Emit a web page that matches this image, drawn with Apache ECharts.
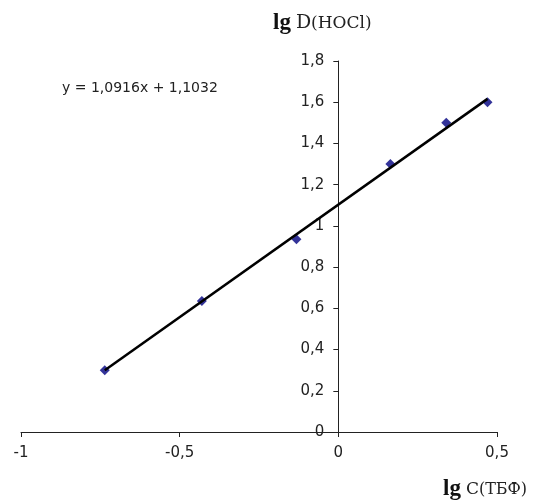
<!DOCTYPE html>
<html>
<head>
<meta charset="utf-8">
<script src="https://cdn.jsdelivr.net/npm/echarts@6/dist/echarts.min.js"></script>
<style>
  html, body { margin: 0; padding: 0; background: #fff; }
  #chart { width: 539px; height: 502px; }
</style>
</head>
<body>
<div id="chart"></div>
<script>
// measured points: lg C(TBF) vs lg D(HOCl)
var lgC = [-0.736, -0.43, -0.132, 0.164, 0.34, 0.47];
var lgD = [0.30, 0.635, 0.935, 1.30, 1.50, 1.60];
// trendline from the equation on the chart
var slope = 1.0916;
var intercept = 1.1032;
var xTicks = [-1, -0.5, 0, 0.5];
var yTicks = [0, 0.2, 0.4, 0.6, 0.8, 1, 1.2, 1.4, 1.6, 1.8];

var points = lgC.map(function (x, i) { return [x, lgD[i]]; });
var xFirst = lgC[0], xLast = lgC[lgC.length - 1];
var trend = [[xFirst, slope * xFirst + intercept], [xLast, slope * xLast + intercept]];

var gridLeft = 21, gridRight = 42;
var plotW = 539 - gridLeft - gridRight;
// shift the y axis from the left edge to x = 0
var yOffset = -plotW * (0 - xTicks[0]) / (xTicks[xTicks.length - 1] - xTicks[0]);

function comma(v) {
  return String(Math.round(v * 10) / 10).replace('.', ',');
}
function comma4(v) {
  return String(v).replace('.', ',');
}

var myChart = echarts.init(document.getElementById('chart'));
var option = {
  animation: false,
  title: [{
    text: '{b|lg} {n|D}{s|(HOCl)}',
    left: 268,
    top: 7,
    textStyle: {
      rich: {
        b: { fontFamily: 'Liberation Serif', fontWeight: 'bold', fontSize: 23, color: '#111' },
        n: { fontFamily: 'DejaVu Serif', fontWeight: 'normal', fontSize: 19, color: '#222' },
        s: { fontFamily: 'DejaVu Serif', fontWeight: 'normal', fontSize: 17, color: '#222' }
      }
    }
  }, {
    text: '{b|lg} {n|C}{s|(ТБФ)}',
    left: 438,
    top: 473,
    textStyle: {
      rich: {
        b: { fontFamily: 'Liberation Serif', fontWeight: 'bold', fontSize: 23, color: '#111' },
        n: { fontFamily: 'DejaVu Serif', fontWeight: 'normal', fontSize: 17, color: '#222' },
        s: { fontFamily: 'DejaVu Serif', fontWeight: 'normal', fontSize: 16, color: '#222' }
      }
    }
  }, {
    text: 'y = ' + comma4(slope) + 'x + ' + comma4(intercept),
    left: 57,
    top: 76,
    textStyle: { fontFamily: 'DejaVu Sans', fontSize: 14, fontWeight: 'normal', color: '#222' }
  }],
  grid: { left: gridLeft, right: gridRight, top: 61, bottom: 70, containLabel: false, outerBoundsMode: 'none' },
  xAxis: {
    type: 'value',
    min: xTicks[0],
    max: xTicks[xTicks.length - 1],
    interval: 0.5,
    splitLine: { show: false },
    axisLine: { onZero: true, lineStyle: { color: '#222', width: 1 } },
    axisTick: { show: true, length: 5, lineStyle: { color: '#222' } },
    axisLabel: {
      margin: 14,
      fontFamily: 'DejaVu Sans',
      fontSize: 15,
      color: '#222',
      formatter: comma
    }
  },
  yAxis: {
    type: 'value',
    position: 'left',
    offset: yOffset,
    min: yTicks[0],
    max: yTicks[yTicks.length - 1],
    interval: 0.2,
    splitLine: { show: false },
    axisLine: { onZero: false, lineStyle: { color: '#222', width: 1 } },
    axisTick: { show: true, length: 5, lineStyle: { color: '#222' } },
    axisLabel: {
      margin: 14,
      fontFamily: 'DejaVu Sans',
      fontSize: 15,
      color: '#222',
      formatter: comma
    }
  },
  series: [{
    name: 'data',
    type: 'scatter',
    symbol: 'diamond',
    symbolSize: 10,
    itemStyle: { color: '#000080' },
    data: points,
    z: 2
  }, {
    name: 'trend',
    type: 'line',
    symbol: 'none',
    lineStyle: { color: '#000', width: 2.5 },
    data: trend,
    z: 3
  }]
};

myChart.setOption(option);
</script>
</body>
</html>
